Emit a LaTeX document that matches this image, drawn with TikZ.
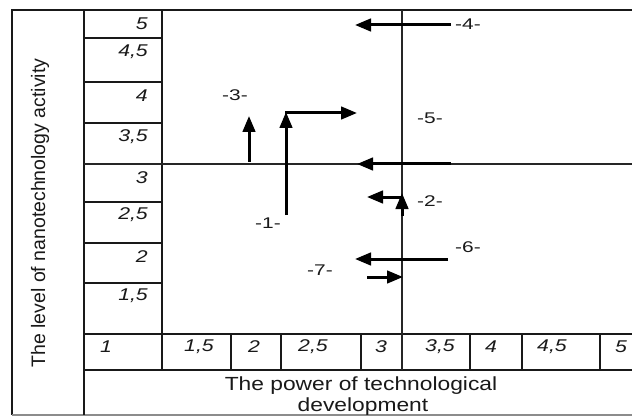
\documentclass[tikz,border=0pt]{standalone}
\usepackage{fontspec}
\setmainfont{Liberation Sans}
\usetikzlibrary{arrows.meta}
\newcommand\stretchtxt[2]{\scalebox{#1}[1]{#2}}
\tikzset{
  frame/.style={line width=1.7pt, draw=black!90},
  thinline/.style={line width=1.3pt, draw=black!85},
  arr/.style={line width=3pt, -{Triangle[length=16pt,width=12.5pt]}},
  num/.style={font=\fontsize{17}{19}\selectfont\itshape, inner sep=0pt, text=black!90},
  lab/.style={font=\fontsize{15.5}{17}\selectfont, inner sep=0pt, text=black!90},
  ttl/.style={font=\fontsize{19}{21}\selectfont, inner sep=0pt, text=black!90},
}
\begin{document}
\begin{tikzpicture}[x=1pt,y=-1pt]
\useasboundingbox (0,0) rectangle (632,417);
\fill[white] (0,0) rectangle (632,417);
% outer frame
\draw[frame] (632,10) -- (12,10) -- (12,415);
\draw[thinline, draw=black!45] (12,415) -- (632,415);
\draw[frame] (84,10) -- (84,415);
\draw[frame] (162,10) -- (162,370);
% y-axis rows
\foreach \yy in {38,82,123,202,243,283}{\draw[frame] (84,\yy) -- (162,\yy);}
\draw[thinline] (84,164) -- (632,164);
% x-axis row
\draw[frame] (84,334) -- (632,334);
\draw[frame] (84,370) -- (632,370);
\foreach \xx in {231,281,361,470,522,600}{\draw[frame] (\xx,334) -- (\xx,370);}
\draw[thinline] (402,10) -- (402,370);
% y labels
\node[num, anchor=east] (y5) at (148,24) {\stretchtxt{1.25}{5}};
\node[num, anchor=east] (y45) at (148,52) {\stretchtxt{1.25}{4,5}};
\node[num, anchor=east] (y4) at (148,96) {\stretchtxt{1.25}{4}};
\node[num, anchor=east] (y35) at (148,137) {\stretchtxt{1.25}{3,5}};
\node[num, anchor=east] (y3) at (148,178) {\stretchtxt{1.25}{3}};
\node[num, anchor=east] (y25) at (148,215) {\stretchtxt{1.25}{2,5}};
\node[num, anchor=east] (y2) at (148,257) {\stretchtxt{1.25}{2}};
\node[num, anchor=east] (y15) at (148,296) {\stretchtxt{1.25}{1,5}};
% x labels
\node[num] (x1) at (106,347) {\stretchtxt{1.25}{1}};
\node[num] (x15) at (199,347) {\stretchtxt{1.25}{1,5}};
\node[num] (x2) at (254,347) {\stretchtxt{1.25}{2}};
\node[num] (x25) at (313,347) {\stretchtxt{1.25}{2,5}};
\node[num] (x3) at (381,347) {\stretchtxt{1.25}{3}};
\node[num] (x35) at (440,347) {\stretchtxt{1.25}{3,5}};
\node[num] (x4) at (491,347) {\stretchtxt{1.25}{4}};
\node[num] (x45) at (552,347) {\stretchtxt{1.25}{4,5}};
\node[num] (x5) at (621,347) {\stretchtxt{1.25}{5}};
% axis titles
\node[ttl, anchor=base] (tx1) at (361,390) {\stretchtxt{1.2}{The power of technological}};
\node[ttl, anchor=base] (tx2) at (363,411) {\stretchtxt{1.2}{development}};
\node[ttl, font=\fontsize{19.5}{21}\selectfont, rotate=90] (ty) at (40,213) {The level of nanotechnology activity};
% arrow labels
\node[lab] (l1) at (268,223) {\stretchtxt{1.35}{-1-}};
\node[lab] (l2) at (430,201) {\stretchtxt{1.35}{-2-}};
\node[lab] (l3) at (235,95) {\stretchtxt{1.35}{-3-}};
\node[lab] (l4) at (468,24) {\stretchtxt{1.35}{-4-}};
\node[lab] (l5) at (430,118) {\stretchtxt{1.35}{-5-}};
\node[lab] (l6) at (468,247) {\stretchtxt{1.35}{-6-}};
\node[lab] (l7) at (320,270) {\stretchtxt{1.35}{-7-}};
% arrow end points
\coordinate (a4s) at (451,25);  \coordinate (a4e) at (355,25);
\coordinate (a5s) at (451,164); \coordinate (a5e) at (357,164);
\coordinate (a6s) at (448,259); \coordinate (a6e) at (355,259);
\coordinate (a7s) at (367,277); \coordinate (a7e) at (403,277);
\coordinate (a2s) at (402,197); \coordinate (a2e) at (367,197);
\coordinate (a2vs) at (402,216); \coordinate (a2ve) at (402,193);
\coordinate (a3s) at (249,162); \coordinate (a3e) at (249,116);
\coordinate (a1s) at (286,215); \coordinate (a1c) at (286,112);
\coordinate (a1h) at (285,113); \coordinate (a1e) at (357,113);
% arrows
\draw[arr] (a4s) -- (a4e);
\draw[arr] (a5s) -- (a5e);
\draw[arr] (a6s) -- (a6e);
\draw[arr] (a7s) -- (a7e);
\draw[arr] (a2s) -- (a2e);
\draw[arr] (a2vs) -- (a2ve);
\draw[arr] (a3s) -- (a3e);
\draw[arr] (a1s) -- (a1c);
\draw[arr] (a1h) -- (a1e);
\end{tikzpicture}
\end{document}
